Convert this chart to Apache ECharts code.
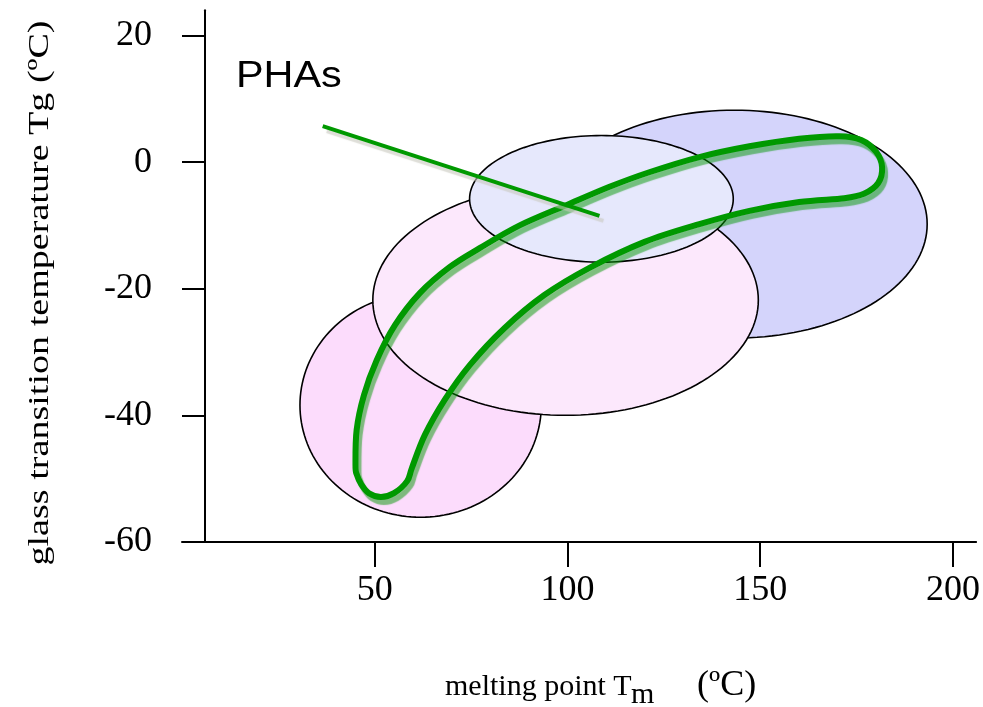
<!DOCTYPE html>
<html><head><meta charset="utf-8">
<script src="https://cdn.jsdelivr.net/npm/echarts@6/dist/echarts.min.js"></script>
<style>html,body{margin:0;padding:0;background:#fff}#c{width:983px;height:707px}</style>
</head><body><div id="c"></div>
<script>
// tick values
const xTicks = [50, 100, 150, 200];
const yTicks = [-60, -40, -20, 0, 20];
// regions (ellipses): [centre Tm, centre Tg, half-width Tm, half-height Tg]
const regionBlue = [143.3, -9.8, 50, 18.0];
const regionPinkSmall = [61.9, -38.4, 31.3, 17.7];
const regionPinkLarge = [99.5, -21.8, 50, 18.2];
const regionLavender = [108.8, -5.8, 34.2, 10.0];
// PHA loop outline (closed)
const loopTm = [45.0, 45.3, 47.2, 50.5, 55.2, 61.7, 69.4, 77.2, 87.6, 99.7, 110.9, 121.2, 134.2, 147.2, 160.1, 170.5, 176.2, 180.1, 181.6, 180.6, 176.9, 171.8,
  160.1, 147.2, 134.2, 120.0, 105.7, 94.0, 83.7, 74.6, 68.1, 63.0, 59.7, 58.4, 55.0, 51.6, 48.5, 46.5, 45.3];
const loopTg = [-47.9, -42.3, -36.8, -31.3, -25.8, -20.7, -16.6, -13.6, -10.0, -6.8, -3.9, -1.6, 0.8, 2.5, 3.7, 4.1, 3.5, 1.6, -0.8, -3.3, -5.0, -5.7,
  -6.3, -7.7, -9.8, -12.6, -16.7, -21.0, -26.2, -32.1, -37.6, -43.1, -48.2, -50.4, -52.3, -52.9, -52.3, -50.9, -49.3];
// pointer line from label
const pointerTm = [36.5, 108.3];
const pointerTg = [5.7, -8.5];

const regions = [regionBlue, regionPinkSmall, regionPinkLarge, regionLavender];
const fills = ['#d4d4fb', '#fcdcfc', '#fce8fc', '#e6e8fc'];
const serif = "'Liberation Serif', 'Times New Roman', serif";

function renderEllipse(params, api) {
  const cx = api.value(0), cy = api.value(1), rx = api.value(2), ry = api.value(3);
  const pts = [];
  const N = 160;
  for (let i = 0; i < N; i++) {
    const t = i / N * Math.PI * 2;
    pts.push(api.coord([cx + rx * Math.cos(t), cy + ry * Math.sin(t)]));
  }
  return { type: 'polygon', shape: { points: pts }, style: { fill: fills[params.dataIndex], stroke: '#000', lineWidth: 1.6 } };
}

// closed Catmull-Rom curve through all loop points (pixel positions from the axes)
function renderLoop(params, api) {
  if (params.dataIndex !== 0) return null;
  const P = loopTm.map((v, i) => api.coord([v, loopTg[i]]));
  const n = P.length;
  let d = 'M' + P[0][0] + ' ' + P[0][1];
  for (let i = 0; i < n; i++) {
    const p0 = P[(i - 1 + n) % n], p1 = P[i], p2 = P[(i + 1) % n], p3 = P[(i + 2) % n];
    const c1x = p1[0] + (p2[0] - p0[0]) / 6, c1y = p1[1] + (p2[1] - p0[1]) / 6;
    const c2x = p2[0] - (p3[0] - p1[0]) / 6, c2y = p2[1] - (p3[1] - p1[1]) / 6;
    d += ' C' + c1x + ' ' + c1y + ' ' + c2x + ' ' + c2y + ' ' + p2[0] + ' ' + p2[1];
  }
  d += ' Z';
  return { type: 'path', shape: { pathData: d },
    style: { fill: null, stroke: '#009900', lineWidth: 6, lineJoin: 'round', lineCap: 'round',
      shadowColor: 'rgba(0,150,0,0.5)', shadowOffsetX: 3, shadowOffsetY: 5, shadowBlur: 1 } };
}

const chart = echarts.init(document.getElementById('c'), null, { renderer: 'canvas' });
const gridPos = { top: 10.2, bottom: 165.1, right: 5 };
chart.setOption({
  animation: false,
  backgroundColor: '#fff',
  grid: [
    Object.assign({ left: 182 }, gridPos),
    Object.assign({ left: 205 }, gridPos)
  ],
  xAxis: [
    { gridIndex: 0, type: 'value', min: 0, max: 206, interval: 50,
      splitLine: { show: false },
      axisLine: { show: true, onZero: false, lineStyle: { color: '#000', width: 2 } },
      axisTick: { show: true, length: 25, lineStyle: { color: '#000', width: 2 }, customValues: xTicks },
      axisLabel: { show: true, margin: 31, color: '#000', fontSize: 36, fontFamily: serif, customValues: xTicks }
    },
    { gridIndex: 1, type: 'value', min: 6, max: 206, show: false }
  ],
  yAxis: [
    { gridIndex: 0, type: 'value', min: -60, max: 24, show: false },
    { gridIndex: 1, type: 'value', min: -60, max: 24, interval: 20,
      splitLine: { show: false },
      axisLine: { show: true, onZero: false, lineStyle: { color: '#000', width: 2 } },
      axisTick: { show: true, length: 23, lineStyle: { color: '#000', width: 2 }, customValues: yTicks },
      axisLabel: { show: true, margin: 53, color: '#000', fontSize: 36, fontFamily: serif, customValues: yTicks }
    }
  ],
  series: [
    { type: 'custom', xAxisIndex: 0, yAxisIndex: 0, renderItem: renderEllipse,
      data: regions, encode: { x: 0, y: 1 }, silent: true, z: 1 },
    { type: 'custom', xAxisIndex: 0, yAxisIndex: 0, renderItem: renderLoop,
      data: loopTm.map((v, i) => [v, loopTg[i]]), encode: { x: 0, y: 1 }, silent: true, z: 3 },
    { type: 'line', xAxisIndex: 0, yAxisIndex: 0, data: pointerTm.map((v, i) => [v, pointerTg[i]]),
      showSymbol: false, z: 4,
      lineStyle: { color: '#009900', width: 4, shadowColor: 'rgba(200,200,190,0.6)', shadowOffsetX: 4, shadowOffsetY: 5, shadowBlur: 1 } }
  ],
  graphic: [
    { type: 'text', x: 236, y: 77, scaleX: 1.15, z: 10,
      style: { text: 'PHAs', x: 0, y: 0, fill: '#000', font: "36px 'Liberation Sans', Arial, sans-serif", align: 'left', verticalAlign: 'middle' } },
    { type: 'text', x: 40, y: 293, rotation: Math.PI / 2, scaleX: 1.27, z: 10,
      style: { text: 'glass transition temperature Tg (ºC)', x: 0, y: 0, fill: '#000', font: '30px ' + serif, align: 'center', verticalAlign: 'middle' } },
    { type: 'text', x: 445, y: 687, z: 10,
      style: { text: 'melting point T', x: 0, y: 0, fill: '#000', font: '30px ' + serif, align: 'left', verticalAlign: 'middle' } },
    { type: 'text', x: 631, y: 695, z: 10,
      style: { text: 'm', x: 0, y: 0, fill: '#000', font: '30px ' + serif, align: 'left', verticalAlign: 'middle' } },
    { type: 'text', x: 697, y: 686, z: 10,
      style: { text: '(ºC)', x: 0, y: 0, fill: '#000', font: '36px ' + serif, align: 'left', verticalAlign: 'middle' } }
  ]
});
</script></body></html>
